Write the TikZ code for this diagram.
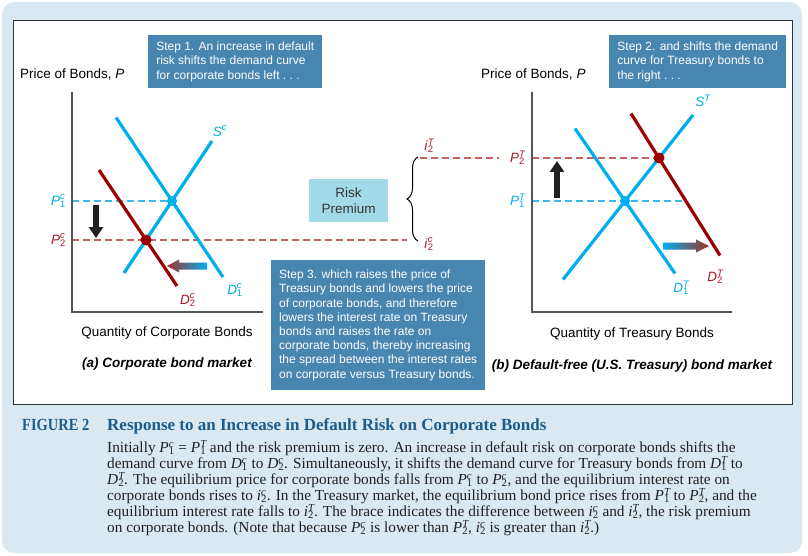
\documentclass[tikz,border=0pt]{standalone}
\usepackage{fontspec}
\setmainfont{Liberation Sans}
\newfontfamily\capfont{Liberation Serif}
\usepackage{graphicx}
\usepackage{tikz}
\usetikzlibrary{calc, positioning, arrows.meta, decorations.pathreplacing}

\definecolor{bgblue}{RGB}{217,232,241}
\definecolor{stepblue}{RGB}{72,134,178}
\definecolor{premblue}{RGB}{163,218,234}
\definecolor{linecyan}{RGB}{0,174,239}
\definecolor{linered}{RGB}{155,0,0}
\definecolor{labred}{RGB}{170,25,35}
\definecolor{dashred}{RGB}{200,95,95}
\definecolor{dashcyan}{RGB}{60,185,235}
\definecolor{capblue}{RGB}{28,92,138}
\definecolor{axisgray}{RGB}{85,85,85}
\definecolor{arrowblack}{RGB}{35,31,32}
\definecolor{arrowred}{RGB}{160,50,40}

\newcommand{\blab}[3]{\textit{#1}\rlap{\textsuperscript{\itshape #2}}\textsubscript{#3}}

\begin{document}
\begin{tikzpicture}[x=1pt, y=-1pt, every node/.style={font=\fontsize{13.5}{16}\selectfont, inner sep=0pt},
    stepbox/.style={rectangle, fill=stepblue, text=white, align=left, inner sep=0pt, font=\fontsize{12}{14.2}\selectfont},
    curve/.style={line width=3.2pt},
    guide/.style={dash pattern=on 7pt off 4pt, line width=1.2pt},
    axisline/.style={draw=axisgray, line width=1.3pt},
    movearrow/.style={draw=arrowblack, line width=5.5pt, -{Triangle[width=14pt,length=11pt]}}]
        \useasboundingbox (0,0) rectangle (808,556);
        \fill[bgblue, rounded corners=12pt] (2,2) rectangle (802,553);
        \draw[fill=white, draw=black!80, line width=1pt] (13,21) rectangle (792,404);

        \node[stepbox, anchor=north west, minimum width=174pt, minimum height=53pt] (step1) at (148,35) {Step 1. An increase in default\\risk shifts the demand curve\\for corporate bonds left .\ .\ .};
        \node[stepbox, anchor=north west, minimum width=177pt, minimum height=53pt] (step2) at (609,35) {Step 2. and shifts the demand\\curve for Treasury bonds to\\the right .\ .\ .};
        \node[stepbox, anchor=north west, minimum width=214pt, minimum height=130pt] (step3) at (271,260) {Step 3. which raises the price of\\Treasury bonds and lowers the price\\of corporate bonds, and therefore\\lowers the interest rate on Treasury\\bonds and raises the rate on\\corporate bonds, thereby increasing\\the spread between the interest rates\\on corporate versus Treasury bonds.};
        \node[rectangle, fill=premblue, minimum width=79pt, minimum height=43pt, align=center, text=black!80] (prem) at (348.5,200.5) {Risk\\Premium};

        % corporate bond market
        \coordinate (ao) at (72,312);
        \coordinate (e1) at (172,201);
        \coordinate (e2) at (146,240);
        \node[anchor=west] (ylabA) at (20,74) {Price of Bonds, \textit{P}};
        \node (xlabA) at (167,333) {Quantity of Corporate Bonds};
        \node[font=\fontsize{13.5}{16}\selectfont\bfseries\itshape] (titA) at (167,364) {(a) Corporate bond market};

        \draw[guide, dashcyan] (ao |- e1) -- (e1);
        \draw[guide, dashred] (ao |- e2) -- (407,240);
        \draw[axisline] (72,92) -- (ao) -- (263,312);
        \draw[curve, linecyan] (124,273) -- (212,141);
        \draw[curve, linecyan] (116,117.5) -- (223,277);
        \draw[curve, linered] (99,170) -- (177,286);
        \fill[linecyan] (e1) circle (5pt);
        \fill[linered] (e2) circle (5.5pt);

        \node[text=linecyan] (sc) at (220,131) {\textit{S}\textsuperscript{\itshape c}};
        \node[text=linecyan] (d1c) at (235,290) {\blab{D}{c}{1}};
        \node[text=labred] (d2c) at (188,300) {\blab{D}{c}{2}};
        \node[text=linecyan, anchor=east] (p1c) at (66,201) {\blab{P}{c}{1}};
        \node[text=labred, anchor=east] (p2c) at (66,240) {\blab{P}{c}{2}};

        \draw[movearrow] (96,205) -- (96,238);
        \shade[left color=arrowred, right color=linecyan] (207,262.5) -- (179,262.5) -- (179,259.5) -- (167,266) -- (179,272.5) -- (179,269.5) -- (207,269.5) -- cycle;

        % brace
        \draw[decorate, decoration={brace, amplitude=11pt}, line width=1pt] (418,241) -- (418,157);
        \node[text=labred] (i2t) at (429,146) {\blab{i}{T}{2}};
        \node[text=labred] (i2c) at (429,244) {\blab{i}{c}{2}};

        % treasury bond market
        \coordinate (bo) at (532,312);
        \coordinate (t1) at (625,201);
        \coordinate (t2) at (659,158);
        \node[anchor=west] (ylabB) at (481,74) {Price of Bonds, \textit{P}};
        \node (xlabB) at (632,334) {Quantity of Treasury Bonds};
        \node[font=\fontsize{13.5}{16}\selectfont\bfseries\itshape] (titB) at (632,366) {(b) Default-free (U.S. Treasury) bond market};

        \draw[guide, dashred] (420,158) -- (499,158);
        \draw[guide, dashred] (bo |- t2) -- (t2);
        \draw[guide, dashcyan] (bo |- t1) -- (684,201);
        \draw[axisline] (532,92) -- (bo) -- (732,312);
        \draw[curve, linecyan] (563,279.5) -- (693,115);
        \draw[curve, linecyan] (575,128.5) -- (675,273.5);
        \draw[curve, linered] (631,113.5) -- (720,255.5);
        \fill[linecyan] (t1) circle (5pt);
        \fill[linered] (t2) circle (5.5pt);

        \node[text=linecyan] (st) at (703,101) {\textit{S}\textsuperscript{\itshape T}};
        \node[text=linecyan] (d1t) at (681,288) {\blab{D}{T}{1}};
        \node[text=labred] (d2t) at (715,277) {\blab{D}{T}{2}};
        \node[text=linecyan, anchor=east] (p1t) at (525,201) {\blab{P}{T}{1}};
        \node[text=labred, anchor=east] (p2t) at (525,158) {\blab{P}{T}{2}};

        \draw[movearrow] (557,198) -- (557,161);
        \shade[left color=linecyan, right color=arrowred] (663,242.5) -- (696,242.5) -- (696,239.5) -- (709,246) -- (696,252.5) -- (696,249.5) -- (663,249.5) -- cycle;

        % caption
        \node[anchor=base west, text=capblue, font=\capfont\bfseries\fontsize{17}{20}\selectfont] (fignum) at (22,430) {\scalebox{0.85}[1]{FIGURE 2}};
        \node[anchor=base west, text=capblue, font=\capfont\bfseries\fontsize{17}{20}\selectfont] (figtitle) at (107,430) {Response to an Increase in Default Risk on Corporate Bonds};
        \node[anchor=north west, align=left, text=arrowblack, font=\capfont\fontsize{15.3}{16}\selectfont] (figtext) at (107,440) {Initially \blab{P}{c}{1} = \blab{P}{T}{1} and the risk premium is zero. An increase in default risk on corporate bonds shifts the\\
demand curve from \blab{D}{c}{1} to \blab{D}{c}{2}. Simultaneously, it shifts the demand curve for Treasury bonds from \blab{D}{T}{1} to\\
\blab{D}{T}{2}. The equilibrium price for corporate bonds falls from \blab{P}{c}{1} to \blab{P}{c}{2}, and the equilibrium interest rate on\\
corporate bonds rises to \blab{i}{c}{2}. In the Treasury market, the equilibrium bond price rises from \blab{P}{T}{1} to \blab{P}{T}{2}, and the\\
equilibrium interest rate falls to \blab{i}{T}{2}. The brace indicates the difference between \blab{i}{c}{2} and \blab{i}{T}{2}, the risk premium\\
on corporate bonds. (Note that because \blab{P}{c}{2} is lower than \blab{P}{T}{2}, \blab{i}{c}{2} is greater than \blab{i}{T}{2}.)};
    \end{tikzpicture}
\end{document}
